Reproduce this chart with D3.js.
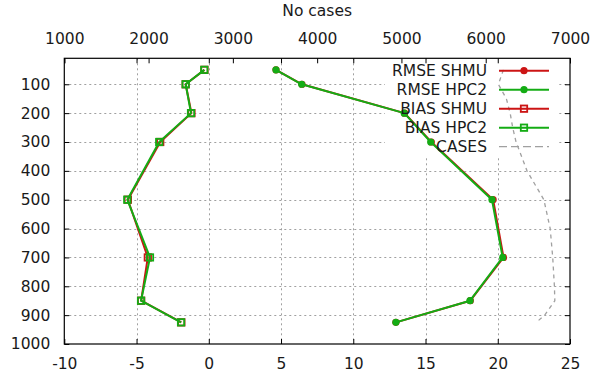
<!DOCTYPE html>
<html>
<head>
<meta charset="utf-8">
<script src="https://cdn.jsdelivr.net/npm/d3@7"></script>
<style>
  html, body { margin: 0; padding: 0; background: #fff; }
  svg { display: block; font-family: "DejaVu Sans", sans-serif; }
</style>
</head>
<body>
<svg id="chart" width="592" height="374"></svg>
<script>
// Pressure levels (hPa) of the verification profile
const levels = [50, 100, 200, 300, 500, 700, 850, 925];

// Error statistics per level
const rmseSHMU = [4.65, 6.45, 13.55, 15.4, 19.68, 20.4, 18.1, 12.95];
const rmseHPC2 = [4.65, 6.43, 13.53, 15.36, 19.6, 20.34, 18.08, 12.95];
const biasSHMU = [-0.3, -1.6, -1.2, -3.36, -5.6, -4.22, -4.68, -1.9];
const biasHPC2 = [-0.31, -1.6, -1.23, -3.43, -5.64, -4.07, -4.69, -1.92];

// Number of cases per level (top axis)
const caseLevels = [50, 100, 150, 200, 250, 300, 400, 500, 600, 700, 800, 850, 900, 925];
const caseCounts = [6210, 6150, 6245, 6290, 6320, 6360, 6490, 6690, 6765, 6795, 6815, 6820, 6700, 6600];

// Tick values
const xTicks = [-10, -5, 0, 5, 10, 15, 20, 25];
const x2Ticks = [1000, 2000, 3000, 4000, 5000, 6000, 7000];
const yTicks = [100, 200, 300, 400, 500, 600, 700, 800, 900, 1000];

const legendNames = ["RMSE SHMU", "RMSE HPC2", "BIAS SHMU", "BIAS HPC2", "CASES"];

const RED = "#cc1414";
const GREEN = "#14ac14";
const GRAY = "#a0a0a0";
const FONT = 15.5;

const svg = d3.select("#chart");
const L = 64.3, R = 570, T = 58.3, B = 344;

const x = d3.scaleLinear().domain([-10, 25]).range([L, R]);
const x2 = d3.scaleLinear().domain([1000, 7000]).range([L, R]);
const y = d3.scaleLinear().domain([10, 1000]).range([T, B]);

// Plain hyphen for negative numbers
const fmt = d => String(d);

// Grid
const grid = svg.append("g").attr("stroke", GRAY).attr("stroke-width", 1)
  .attr("stroke-dasharray", "2,3");
grid.selectAll("line.gx").data(xTicks.filter(v => v > -10 && v < 25)).join("line")
  .attr("x1", d => Math.round(x(d)) + 0.5).attr("x2", d => Math.round(x(d)) + 0.5)
  .attr("y1", T).attr("y2", B);
grid.selectAll("line.gy").data(yTicks.filter(v => v < 1000)).join("line")
  .attr("y1", d => Math.round(y(d)) + 0.5).attr("y2", d => Math.round(y(d)) + 0.5)
  .attr("x1", L).attr("x2", R);

// Key area keeps the grid out
svg.append("rect").attr("x", 385).attr("y", T + 1).attr("width", 172).attr("height", 97)
  .attr("fill", "#fff");

// Axes with inward ticks
function styleAxis(g) {
  g.select(".domain").remove();
  g.selectAll(".tick line").attr("stroke", "#000");
  g.selectAll(".tick text").attr("font-family", "DejaVu Sans, sans-serif")
    .attr("font-size", FONT).attr("fill", "#1a1a1a");
}
svg.append("g").attr("transform", `translate(0,${B})`)
  .call(d3.axisBottom(x).tickValues(xTicks).tickSize(-5).tickPadding(14).tickFormat(fmt))
  .call(styleAxis);
svg.append("g").attr("transform", `translate(0,${T})`)
  .call(d3.axisTop(x).tickValues(xTicks).tickSize(-5).tickFormat(""))
  .call(styleAxis);
svg.append("g").attr("transform", `translate(0,${T})`)
  .call(d3.axisTop(x2).tickValues(x2Ticks).tickSize(-5).tickPadding(14).tickFormat(fmt))
  .call(styleAxis);
svg.append("g").attr("transform", `translate(${L},0)`)
  .call(d3.axisLeft(y).tickValues(yTicks).tickSize(-5).tickPadding(14).tickFormat(fmt))
  .call(styleAxis);
svg.append("g").attr("transform", `translate(${R},0)`)
  .call(d3.axisRight(y).tickValues(yTicks).tickSize(-5).tickFormat(""))
  .call(styleAxis);

// Border
svg.append("rect").attr("x", L).attr("y", T).attr("width", R - L).attr("height", B - T)
  .attr("fill", "none").attr("stroke", "#000").attr("stroke-width", 1.2);

// Title of the top axis
svg.append("text").attr("x", (L + R) / 2).attr("y", 16).attr("text-anchor", "middle")
  .attr("font-size", FONT).attr("fill", "#1a1a1a").text("No cases");

// Profiles
const profile = (vals) => d3.line().x((d, i) => x(vals[i])).y(d => y(d));

function drawMarkers(g, pts, color, marker) {
  if (marker === "circle") {
    g.selectAll("circle").data(pts).join("circle")
      .attr("cx", d => d[0]).attr("cy", d => d[1]).attr("r", 3.6).attr("fill", color);
  } else {
    g.selectAll("rect").data(pts).join("rect")
      .attr("x", d => d[0] - 3.2).attr("y", d => d[1] - 3.2)
      .attr("width", 6.4).attr("height", 6.4)
      .attr("fill", "none").attr("stroke", color).attr("stroke-width", 1.8);
  }
}
function drawSeries(vals, color, marker) {
  const g = svg.append("g");
  g.append("path").datum(levels).attr("d", profile(vals))
    .attr("fill", "none").attr("stroke", color).attr("stroke-width", 2)
    .attr("stroke-linejoin", "round");
  drawMarkers(g, levels.map((lv, i) => [x(vals[i]), y(lv)]), color, marker);
}

drawSeries(rmseSHMU, RED, "circle");
drawSeries(rmseHPC2, GREEN, "circle");
drawSeries(biasSHMU, RED, "square");
drawSeries(biasHPC2, GREEN, "square");

svg.append("path").datum(caseLevels)
  .attr("d", d3.line().x((d, i) => x2(caseCounts[i])).y(d => y(d)))
  .attr("fill", "none").attr("stroke", GRAY).attr("stroke-width", 1.3)
  .attr("stroke-dasharray", "4,4");

// Key
const keyStyles = [
  { color: RED, marker: "circle" },
  { color: GREEN, marker: "circle" },
  { color: RED, marker: "square" },
  { color: GREEN, marker: "square" },
  { color: GRAY, marker: null }
];
legendNames.forEach((name, i) => {
  const cy = 70.7 + i * 19;
  const g = svg.append("g");
  g.append("text").attr("x", 487).attr("y", cy).attr("dy", "0.36em")
    .attr("text-anchor", "end").attr("font-size", FONT).attr("fill", "#1a1a1a").text(name);
  const s = keyStyles[i];
  g.append("line").attr("x1", 499).attr("x2", 549).attr("y1", cy).attr("y2", cy)
    .attr("stroke", s.color).attr("stroke-width", s.marker ? 2 : 1.3)
    .attr("stroke-dasharray", s.marker ? null : "8,4");
  if (s.marker) drawMarkers(g, [[524, cy]], s.color, s.marker);
});
</script>
</body>
</html>
